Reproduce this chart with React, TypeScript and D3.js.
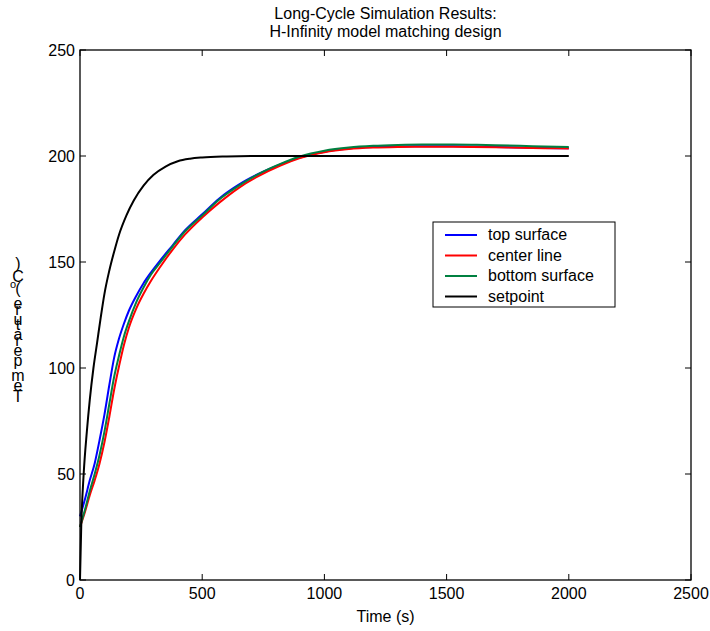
import React from "react";
import * as d3 from "d3";

const timeSet = [0, 5, 15, 28, 40, 55, 70, 85, 100, 120, 140, 160, 190, 220, 260, 300, 350, 400, 450, 500, 600, 700, 800, 1000, 1500, 2000];
const setpoint = [0, 25, 50, 70, 85, 100, 112, 124, 135, 146, 155, 163, 172, 179, 186, 191, 195, 197.5, 198.7, 199.3, 199.8, 200, 200, 200, 200, 200];

const timeT = [0, 20, 40, 60, 80, 100, 120, 140, 160, 180, 200, 230, 260, 290, 330, 380, 430, 500, 570, 650, 730, 820, 900, 1000, 1100, 1200, 1300, 1400, 1500, 1600, 1700, 1800, 1900, 2000];
const topSurface = [30, 38, 47, 55, 66, 78, 92, 105, 114, 121, 127, 134, 140, 145, 151, 158, 165, 172.5, 180, 186.5, 191.5, 196, 199.3, 202, 203.5, 204.2, 204.5, 204.6, 204.6, 204.5, 204.3, 204, 203.8, 203.6];
const centerLine = [25, 32, 40, 47, 55, 65, 77, 90, 101, 111, 119, 128, 135, 141, 148, 156, 163, 171, 178, 185, 190.5, 195.5, 199, 201.8, 203.3, 204, 204.3, 204.4, 204.4, 204.3, 204.1, 203.9, 203.7, 203.5];
const bottomSurface = [25, 33, 42, 50, 59, 70, 83, 96, 106, 115, 122, 131, 138, 144, 150, 157.5, 164.5, 172, 179.5, 186, 191.5, 196.3, 199.8, 202.5, 204, 204.8, 205.2, 205.4, 205.4, 205.3, 205.1, 204.8, 204.5, 204.2];

const xTicks = [0, 500, 1000, 1500, 2000, 2500];
const yTicks = [0, 50, 100, 150, 200, 250];
const legendLabels = ["top surface", "center line", "bottom surface", "setpoint"];
const titleLines = ["Long-Cycle Simulation Results:", "H-Infinity model matching design"];
const xLabel = "Time (s)";
const yLabelChars = ["T", "e", "m", "p", "e", "r", "a", "t", "u", "r", "e", " ", "(", "o", "C", ")"];

const colors = ["#0000ff", "#ff0000", "#008040", "#000000"];
const FONT = "'Liberation Sans', Arial, sans-serif";
const FS = 16;

const charW: Record<string, number> = {
  T: 0.611, e: 0.556, m: 0.833, p: 0.556, r: 0.333, a: 0.556, t: 0.278, u: 0.556,
  " ": 0.278, "(": 0.333, o: 0.35, C: 0.722, ")": 0.333,
};

export default function App() {
  const W = 710, H = 631;
  const L = 80, R = 691, T = 50, B = 580;
  const x = d3.scaleLinear().domain([0, 2500]).range([L, R]);
  const y = d3.scaleLinear().domain([0, 250]).range([B, T]);
  const line = d3.line<[number, number]>().x(d => x(d[0])).y(d => y(d[1])).curve(d3.curveMonotoneX);

  const series: [number[], number[]][] = [
    [timeT, topSurface],
    [timeT, centerLine],
    [timeT, bottomSurface],
    [timeSet, setpoint],
  ];

  let cy = 402;
  const yChars = yLabelChars.map((c, i) => {
    const w = (charW[c] ?? 0.5) * 18;
    const pos = cy;
    cy -= w;
    const isSup = c === "o";
    return (
      <text key={i} x={isSup ? 13 : 18} y={pos} fontSize={isSup ? 11 : 16} textAnchor="middle" fontFamily={FONT}>
        {c}
      </text>
    );
  });

  const tick = 6;
  const legX = 433, legY = 222, legW = 182, legH = 85;

  return (
    <div style={{ position: "fixed", left: 0, top: 0 }}>
      <svg width={W} height={H} style={{ display: "block", background: "#fff" }}>
        {series.map(([tx, vy], i) => (
          <path key={i} d={line(tx.map((t, j) => [t, vy[j]] as [number, number])) || ""}
            fill="none" stroke={colors[i]} strokeWidth={2} />
        ))}
        <rect x={L} y={T} width={R - L} height={B - T} fill="none" stroke="#000" strokeWidth={1.3} />
        {xTicks.map(v => (
          <g key={"x" + v}>
            <line x1={x(v)} x2={x(v)} y1={B} y2={B - tick} stroke="#000" />
            <line x1={x(v)} x2={x(v)} y1={T} y2={T + tick} stroke="#000" />
            <text x={x(v)} y={B + 19} fontSize={FS} textAnchor="middle" fontFamily={FONT}>{v}</text>
          </g>
        ))}
        {yTicks.map(v => (
          <g key={"y" + v}>
            <line x1={L} x2={L + tick} y1={y(v)} y2={y(v)} stroke="#000" />
            <line x1={R} x2={R - tick} y1={y(v)} y2={y(v)} stroke="#000" />
            <text x={L - 5} y={y(v) + 6} fontSize={FS} textAnchor="end" fontFamily={FONT}>{v}</text>
          </g>
        ))}
        {titleLines.map((t, i) => (
          <text key={t} x={(L + R) / 2} y={19 + i * 18} fontSize={FS} textAnchor="middle" fontFamily={FONT}>{t}</text>
        ))}
        <text x={(L + R) / 2} y={622} fontSize={FS} textAnchor="middle" fontFamily={FONT}>{xLabel}</text>
        {yChars}
        <rect x={legX} y={legY} width={legW} height={legH} fill="#fff" stroke="#000" strokeWidth={1} />
        {legendLabels.map((lab, i) => {
          const ly = legY + 13 + i * 20.5;
          return (
            <g key={lab}>
              <line x1={legX + 12} x2={legX + 44} y1={ly} y2={ly} stroke={colors[i]} strokeWidth={2} />
              <text x={legX + 55} y={ly + 5} fontSize={FS} fontFamily={FONT}>{lab}</text>
            </g>
          );
        })}
      </svg>
    </div>
  );
}
